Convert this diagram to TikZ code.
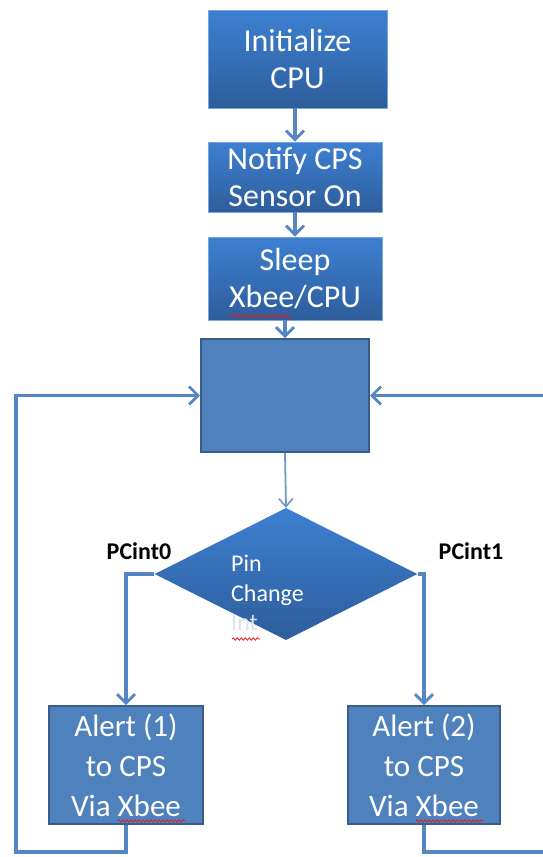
\documentclass[tikz,border=0pt]{standalone}
\usepackage{fontspec}
\setmainfont{Carlito}
\usetikzlibrary{arrows.meta,shapes.geometric,decorations.pathmorphing}
\definecolor{boxtop}{HTML}{3D80D2}
\definecolor{boxbot}{HTML}{2E5D9B}
\definecolor{flat}{HTML}{4F81BD}
\definecolor{edge}{HTML}{385D8A}
\definecolor{conn}{HTML}{5585C2}
\definecolor{spell}{HTML}{E02020}
\definecolor{faint}{HTML}{DCE3EE}
\tikzset{
  gbox/.style={rectangle, top color=boxtop, bottom color=boxbot, draw=boxtop!70!white, line width=0.8pt,
    text=white, align=center, inner sep=0pt, font=\fontsize{32}{37}\selectfont},
  fbox/.style={rectangle, fill=flat, draw=edge, line width=2pt,
    text=white, align=center, inner sep=0pt, font=\fontsize{31}{40}\selectfont},
  arr/.style={draw=conn, line width=3.5pt, -{Straight Barb[length=9pt,width=18pt,line width=2.8pt]}},
  thinarr/.style={draw=conn!85!white, line width=1.8pt, -{Straight Barb[length=8pt,width=14pt,line width=1.6pt]}},
  line/.style={draw=conn, line width=3.5pt},
  lbl/.style={font=\bfseries\fontsize{24}{28}\selectfont, text=black},
  squig/.style={draw=spell, line width=0.8pt, decorate, decoration={snake, amplitude=1.2pt, segment length=4pt}}
}
\begin{document}
\begin{tikzpicture}[x=1pt,y=-1pt]
\useasboundingbox (0,0) rectangle (543,857);
\fill[white] (0,0) rectangle (543,857);
% boxes
\node[gbox, minimum width=179, minimum height=98] (b1) at (297.5,59) {Initialize\\CPU};
\node[gbox, minimum width=174, minimum height=70] (b2) at (295,177) {Notify CPS\\Sensor On};
\node[gbox, minimum width=174, minimum height=83] (b3) at (295,278.5) {Sleep\\Xbee/CPU};
\node[fbox, minimum width=168, minimum height=113] (b4) at (285,395.5) {};
\node[diamond, top color=boxtop, bottom color=boxbot, inner sep=0pt, minimum width=263, minimum height=132] (d) at (286,574) {};
\node[anchor=west, text=white, align=left, font=\fontsize{24}{29.5}\selectfont, inner sep=0pt] (dt) at (231,593) {Pin\\Change\\\textcolor{faint}{Int}};
\node[fbox, minimum width=154, minimum height=118] (a1) at (126,765) {Alert (1)\\to CPS\\Via Xbee};
\node[fbox, minimum width=152, minimum height=118] (a2) at (424,765) {Alert (2)\\to CPS\\Via Xbee};
\node[lbl] (p0) at (139,551) {PCint0};
\node[lbl] (p1) at (471,551) {PCint1};
% connectors
\draw[arr] (b2.north |- b1.south) -- (b2.north);
\draw[arr] (b3.north |- b2.south) -- (b3.north);
\draw[arr] (b4.north |- b3.south) -- (b4.north);
\draw[thinarr] (b4.south) -- (d.north);
\draw[arr] (d.west) -| (a1.north);
\draw[arr] (d.east) -| (a2.north);
\coordinate (bl) at (16,852);
\coordinate (br) at (543,852);
\coordinate (re) at (543,395.5);
\draw[arr] (a1.south) |- (bl) |- (b4.west);
\draw[line] (a2.south) |- (br);
\draw[arr] (re) -- (b4.east);
% spelling marks
\draw[squig] (230,316) -- (291,316);
\draw[squig] (232,639) -- (260,639);
\draw[squig] (118,821) -- (185,821);
\draw[squig] (416,821) -- (484,821);
\end{tikzpicture}
\end{document}
